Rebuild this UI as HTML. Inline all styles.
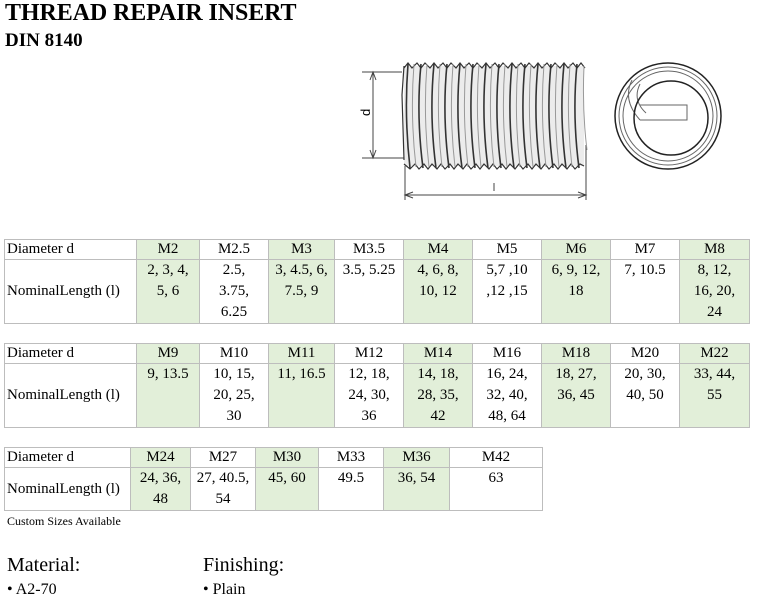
<!DOCTYPE html>
<html><head><meta charset="utf-8"><style>
body{margin:0;width:762px;height:608px;background:#fff;position:relative;font-family:"Liberation Serif",serif;color:#000;overflow:hidden}
.a{position:absolute}
table{position:absolute;border-collapse:collapse;table-layout:fixed;font-size:15px;line-height:21px}
td{border:1px solid #bdbdbd;padding:0;text-align:center;vertical-align:top}
td.l{text-align:left;padding-left:2px;vertical-align:middle}
tr.h td{height:19px;line-height:19px;vertical-align:middle}
.g{background:#e2efd9}
</style></head><body>
<div class="a" style="left:5px;top:0px;font-size:24px;font-weight:bold;letter-spacing:-0.1px">THREAD REPAIR INSERT</div>
<div class="a" style="left:5px;top:30px;font-size:19px;font-weight:bold">DIN 8140</div>

<svg class="a" style="left:0;top:0" width="762" height="230">
<g stroke="#444" fill="none" stroke-width="1">
<line x1="362" y1="72" x2="402" y2="72"/><line x1="362" y1="158" x2="405" y2="158"/>
<line x1="373" y1="72" x2="373" y2="158"/>
<path d="M370 80 L373 72 L376 80 M370 150 L373 158 L376 150" />
<line x1="405" y1="160" x2="405" y2="200"/><line x1="586" y1="145" x2="586" y2="200"/>
<line x1="405" y1="195" x2="586" y2="195"/>
<path d="M413 192 L405 195 L413 198 M578 192 L586 195 L578 198"/>
<line x1="494" y1="183" x2="494" y2="191"/>
</g>
<text x="366" y="120" font-family="Liberation Sans,sans-serif" font-size="13" transform="rotate(-90 366 116)">d</text>
<rect x="404" y="66" width="180" height="100" fill="#ececec"/>
<g stroke="#333" fill="none" stroke-width="1.2">
<path d="M404 66 L402 95 L404 160"/>
<path d="M404 68 L408 63 L412 68 L417 63 L421 68 L425 63 L430 68 L434 63 L438 68 L443 63 L447 68 L451 63 L456 68 L460 63 L464 68 L469 63 L473 68 L477 63 L482 68 L486 63 L490 68 L495 63 L499 68 L503 63 L508 68 L512 63 L516 68 L521 63 L525 68 L529 63 L534 68 L538 63 L542 68 L547 63 L551 68 L555 63 L560 68 L564 63 L568 68 L573 63 L577 68 L581 63 L585 68"/>
<path d="M404 164 L410 169 L415 164 L419 169 L424 164 L428 169 L432 164 L437 169 L441 164 L445 169 L450 164 L454 169 L458 164 L463 169 L467 164 L471 169 L476 164 L480 169 L484 164 L489 169 L493 164 L497 169 L502 164 L506 169 L510 164 L515 169 L519 164 L523 169 L528 164 L532 169 L536 164 L541 169 L545 164 L549 169 L554 164 L558 169 L562 164 L567 169 L571 164 L575 169 L580 164 L584 166"/>
</g>
<g stroke="#333" fill="none" stroke-width="1.6">
<path d="M408 64 Q404 115 410 168 M421 64 Q416 115 423 168 M434 64 Q429 115 436 168 M447 64 Q442 115 449 168 M460 64 Q455 115 462 168 M473 64 Q468 115 475 168 M486 64 Q481 115 488 168 M499 64 Q494 115 501 168 M512 64 Q507 115 514 168 M525 64 Q520 115 527 168 M538 64 Q533 115 540 168 M551 64 Q546 115 553 168 M564 64 Q559 115 566 168 M577 64 Q572 115 579 168"/>
</g>
<g stroke="#999" fill="none" stroke-width="1">
<path d="M414 64 Q410 115 416 167 M427 64 Q423 115 429 167 M440 64 Q436 115 442 167 M453 64 Q449 115 455 167 M466 64 Q462 115 468 167 M479 64 Q475 115 481 167 M492 64 Q488 115 494 167 M505 64 Q501 115 507 167 M518 64 Q514 115 520 167 M531 64 Q527 115 533 167 M544 64 Q540 115 546 167 M557 64 Q553 115 559 167 M570 64 Q566 115 572 167"/>
<path d="M584 66 Q582 110 587 150"/>
</g>
<g fill="none" stroke="#222" stroke-width="1.5">
<circle cx="668" cy="116" r="53"/>
</g>
<g fill="none" stroke="#666" stroke-width="1">
<circle cx="668" cy="116" r="49"/><circle cx="668" cy="116" r="45"/>
<path d="M640 105 L687 105 L687 120 L640 120"/>
<path d="M632 80 Q622 100 640 120 M640 84 Q632 100 646 113"/>
</g>
<g fill="none" stroke="#222" stroke-width="1.5">
<circle cx="671" cy="118" r="37"/>
</g>
</svg>

<table style="left:4px;top:239px;width:745px">
<colgroup><col style="width:132px"><col style="width:63px"><col style="width:69px"><col style="width:66px"><col style="width:69px"><col style="width:69px"><col style="width:69px"><col style="width:69px"><col style="width:69px"><col style="width:70px"></colgroup>
<tr class="h"><td class="l">Diameter d</td><td class="g">M2</td><td>M2.5</td><td class="g">M3</td><td>M3.5</td><td class="g">M4</td><td>M5</td><td class="g">M6</td><td>M7</td><td class="g">M8</td></tr>
<tr><td class="l" style="height:61px">NominalLength (l)</td><td class="g">2, 3, 4,<br>5, 6</td><td>2.5,<br>3.75,<br>6.25</td><td class="g">3, 4.5, 6,<br>7.5, 9</td><td>3.5, 5.25</td><td class="g">4, 6, 8,<br>10, 12</td><td>5,7 ,10<br>,12 ,15</td><td class="g">6, 9, 12,<br>18</td><td>7, 10.5</td><td class="g">8, 12,<br>16, 20,<br>24</td></tr>
</table>

<table style="left:4px;top:343px;width:745px">
<colgroup><col style="width:132px"><col style="width:63px"><col style="width:69px"><col style="width:66px"><col style="width:69px"><col style="width:69px"><col style="width:69px"><col style="width:69px"><col style="width:69px"><col style="width:70px"></colgroup>
<tr class="h"><td class="l">Diameter d</td><td class="g">M9</td><td>M10</td><td class="g">M11</td><td>M12</td><td class="g">M14</td><td>M16</td><td class="g">M18</td><td>M20</td><td class="g">M22</td></tr>
<tr><td class="l" style="height:61px">NominalLength (l)</td><td class="g">9, 13.5</td><td>10, 15,<br>20, 25,<br>30</td><td class="g">11, 16.5</td><td>12, 18,<br>24, 30,<br>36</td><td class="g">14, 18,<br>28, 35,<br>42</td><td>16, 24,<br>32, 40,<br>48, 64</td><td class="g">18, 27,<br>36, 45</td><td>20, 30,<br>40, 50</td><td class="g">33, 44,<br>55</td></tr>
</table>

<table style="left:4px;top:447px;width:538px">
<colgroup><col style="width:126px"><col style="width:60px"><col style="width:65px"><col style="width:63px"><col style="width:65px"><col style="width:66px"><col style="width:93px"></colgroup>
<tr class="h"><td class="l">Diameter d</td><td class="g">M24</td><td>M27</td><td class="g">M30</td><td>M33</td><td class="g">M36</td><td>M42</td></tr>
<tr><td class="l" style="height:41px">NominalLength (l)</td><td class="g">24, 36,<br>48</td><td>27, 40.5,<br>54</td><td class="g">45, 60</td><td>49.5</td><td class="g">36, 54</td><td>63</td></tr>
</table>

<div class="a" style="left:7px;top:514px;font-size:12px">Custom Sizes Available</div>
<div class="a" style="left:7px;top:554px;font-size:20px">Material:</div>
<div class="a" style="left:7px;top:581px;font-size:16px">• A2-70</div>
<div class="a" style="left:203px;top:554px;font-size:20px">Finishing:</div>
<div class="a" style="left:203px;top:581px;font-size:16px">• Plain</div>
</body></html>
